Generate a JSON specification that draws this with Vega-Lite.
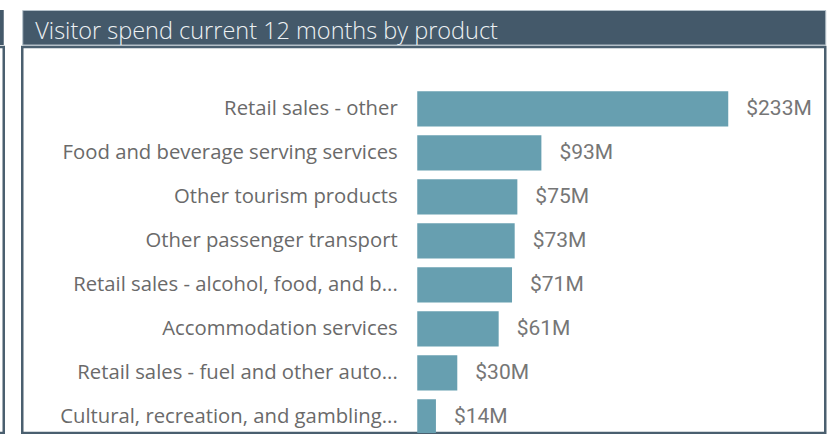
{
  "$schema": "https://vega.github.io/schema/vega-lite/v6.json",
  "padding": {"left": -28.25, "top": 9, "right": 0, "bottom": 0},
  "background": "white",
  "config": {
    "locale": {"number": {"decimal": ".", "thousands": ",", "grouping": [3], "currency": ["$", "M"]}},
    "view": {"stroke": null}
  },
  "datasets": {
    "spend": [
      {"product": "Retail sales - other", "spend": 233},
      {"product": "Food and beverage serving services", "spend": 93},
      {"product": "Other tourism products", "spend": 75},
      {"product": "Other passenger transport", "spend": 73},
      {"product": "Retail sales - alcohol, food, and b...", "spend": 71},
      {"product": "Accommodation services", "spend": 61},
      {"product": "Retail sales - fuel and other auto...", "spend": 30},
      {"product": "Cultural, recreation, and gambling...", "spend": 14}
    ],
    "empty": []
  },
  "spacing": 14.5,
  "hconcat": [
    {
      "spacing": 0,
      "vconcat": [
        {"width": 30, "height": 35, "view": {"fill": "#44596a", "stroke": null}, "data": {"name": "empty"}, "mark": "point", "encoding": {}},
        {"width": 30, "height": 386, "view": {"fill": "white", "stroke": "#4a5f6f", "strokeWidth": 2.5}, "data": {"name": "empty"}, "mark": "point", "encoding": {}}
      ]
    },
    {
      "spacing": 0,
      "vconcat": [
        {
          "width": 803,
          "height": 34.5,
          "view": {"fill": "#44596a", "stroke": "#b3c0c9", "strokeWidth": 1},
          "title": {
            "text": "Visitor spend current 12 months by product",
            "anchor": "start",
            "orient": "top",
            "frame": "group",
            "offset": -52,
            "baseline": "alphabetic",
            "dx": 13,
            "font": "Open Sans",
            "fontSize": 23.5,
            "fontWeight": 300,
            "color": "#eef2f4"
          },
          "data": {"name": "empty"},
          "mark": "point",
          "encoding": {}
        },
        {
          "width": 803,
          "height": 386,
          "view": {"fill": "white", "stroke": "#4a5f6f", "strokeWidth": 2.5},
          "data": {"name": "spend"},
          "encoding": {
            "y": {
              "field": "product",
              "type": "nominal",
              "sort": null,
              "scale": {"range": [39.85, 391.85], "paddingInner": 0.2, "paddingOuter": 0.1},
              "axis": {
                "title": null,
                "orient": "left",
                "offset": -395,
                "domain": false,
                "ticks": false,
                "grid": false,
                "labelPadding": 20,
                "labelLimit": 0,
                "labelFont": "Open Sans",
                "labelFontSize": 20.3,
                "labelColor": "#6a6a6a"
              }
            },
            "x": {
              "field": "spend",
              "type": "quantitative",
              "scale": {"domain": [0, 233], "range": [395, 706]},
              "axis": null
            }
          },
          "layer": [
            {"mark": {"type": "bar", "color": "#679fb0", "clip": true}},
            {
              "mark": {"type": "text", "align": "left", "baseline": "middle", "dx": 18, "font": "Roboto", "fontSize": 21, "color": "#767676"},
              "encoding": {"text": {"field": "spend", "type": "quantitative", "format": "$.0f"}}
            }
          ]
        }
      ]
    }
  ]
}
